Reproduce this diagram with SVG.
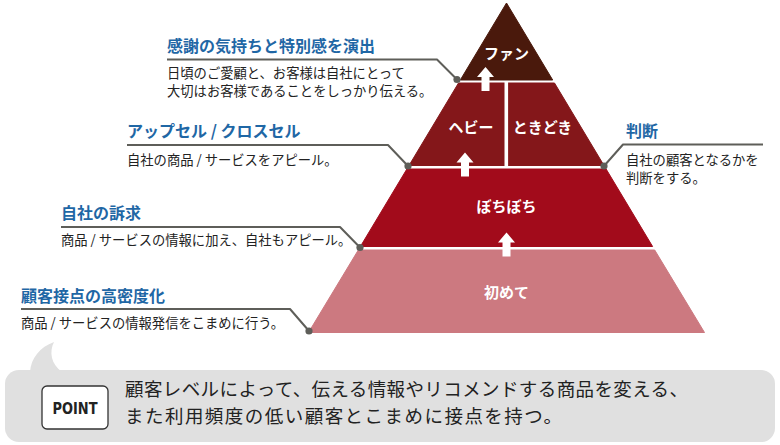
<svg xmlns="http://www.w3.org/2000/svg" width="780" height="445" viewBox="0 0 780 445">
<defs>
<style>
.jp{font-family:"Noto Sans CJK JP","Noto Sans",sans-serif;}
.title{font-size:16px;font-weight:bold;fill:#1f67a5;}
.body{font-size:13.3px;fill:#222;}
.tier{font-size:15px;font-weight:bold;fill:#fff;text-anchor:middle;}
.lead{fill:none;stroke:#5e5e59;stroke-width:2;stroke-linejoin:round;}
.dot{fill:#5e5e59;}
.arrow{fill:#fff;}
.main{font-size:18.5px;fill:#222;}
</style>
<path id="arr" d="M0 0 L8.5 10 L4 10 L4 24 L-4 24 L-4 10 L-8.5 10 Z"/>
</defs>
<rect width="780" height="445" fill="#fff"/>

<g id="tier-fan">
<polygon points="506.5,3 552.7,80 460.3,80" fill="#4a190c" stroke="#4a190c" stroke-width="1" stroke-linejoin="round"/>
<text class="jp tier" x="506.5" y="59">ファン</text>
</g>
<g id="tier-heavy-sometimes">
<polygon points="458.5,83 554.5,83 604,165.5 409,165.5" fill="#84171a" stroke="#84171a" stroke-width="1" stroke-linejoin="round"/>
<line x1="506.3" y1="82" x2="506.3" y2="166" stroke="#fff" stroke-width="3.6"/>
<text class="jp tier" x="471" y="133">ヘビー</text>
<text class="jp tier" x="542.5" y="133">ときどき</text>
</g>
<g id="tier-bochibochi">
<polygon points="406.9,169 606.1,169 652.6,246.5 360.4,246.5" fill="#a20b1b" stroke="#a20b1b" stroke-width="1" stroke-linejoin="round"/>
<text class="jp tier" x="506.5" y="212">ぼちぼち</text>
</g>
<g id="tier-first">
<polygon points="358.3,250 654.7,250 704.5,332.5 308.5,332.5" fill="#cc7980" stroke="#cc7980" stroke-width="1" stroke-linejoin="round"/>
<text class="jp tier" x="506.5" y="298">初めて</text>
</g>

<g id="arrows" class="arrow">
<use href="#arr" x="485.5" y="67"/>
<use href="#arr" x="465" y="152.5"/>
<use href="#arr" x="506.5" y="232.5"/>
</g>

<g id="connectors">
<polyline class="lead" points="167,59.5 437,59.5 457,79.5"/>
<circle class="dot" cx="457" cy="79.5" r="3.6"/>
<polyline class="lead" points="127,145 388,145 408,166"/>
<circle class="dot" cx="408" cy="166" r="3.6"/>
<polyline class="lead" points="763,144.5 623,144.5 604,166"/>
<circle class="dot" cx="604" cy="166" r="3.6"/>
<polyline class="lead" points="61,227 340,227 360,247.5"/>
<circle class="dot" cx="360" cy="247.5" r="3.6"/>
<polyline class="lead" points="21,309 290,309 309,331"/>
<circle class="dot" cx="309" cy="331" r="3.6"/>
</g>

<g id="callout-fan">
<text class="jp title" x="167" y="52">感謝の気持ちと特別感を演出</text>
<text class="jp body" x="167" y="78">日頃のご愛顧と、お客様は自社にとって</text>
<text class="jp body" x="167" y="96">大切はお客様であることをしっかり伝える。</text>
</g>
<g id="callout-upsell">
<text class="jp title" x="127" y="137">アップセル / クロスセル</text>
<text class="jp body" x="127" y="165">自社の商品 / サービスをアピール。</text>
</g>
<g id="callout-judge">
<text class="jp title" x="626" y="137">判断</text>
<text class="jp body" x="626" y="165">自社の顧客となるかを</text>
<text class="jp body" x="626" y="183">判断をする。</text>
</g>
<g id="callout-appeal">
<text class="jp title" x="61" y="219">自社の訴求</text>
<text class="jp body" x="61" y="245">商品 / サービスの情報に加え、自社もアピール。</text>
</g>
<g id="callout-contact">
<text class="jp title" x="21" y="302">顧客接点の高密度化</text>
<text class="jp body" x="21" y="328">商品 / サービスの情報発信をこまめに行う。</text>
</g>

<g id="point-box">
<path d="M30 372 C31 358 40 347 54 342 C49 352 51 364 62 372 Z" fill="#e0e0e0"/>
<rect x="5" y="370" width="770" height="72" rx="14" fill="#e0e0e0"/>
<rect x="42" y="386" width="66" height="43" rx="5" fill="#fff" stroke="#333" stroke-width="1.3"/>
<text x="75" y="414" text-anchor="middle" font-family="DejaVu Sans Condensed, DejaVu Sans, sans-serif" font-weight="bold" font-size="16.5" fill="#222" textLength="45" lengthAdjust="spacingAndGlyphs">POINT</text>
<text class="jp main" x="125" y="396" textLength="563" lengthAdjust="spacing">顧客レベルによって、伝える情報やリコメンドする商品を変える、</text>
<text class="jp main" x="125" y="423" textLength="437" lengthAdjust="spacing">また利用頻度の低い顧客とこまめに接点を持つ。</text>
</g>
</svg>
